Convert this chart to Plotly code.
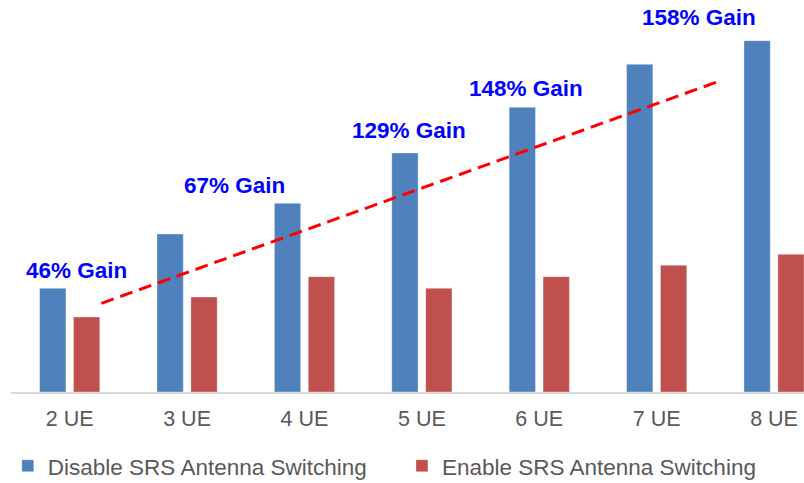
import plotly.graph_objects as go

# Throughput per number of UEs, with and without SRS antenna switching
categories = ["2 UE", "3 UE", "4 UE", "5 UE", "6 UE", "7 UE", "8 UE"]
disable_srs = [103.7, 158.0, 188.7, 239.0, 284.7, 327.7, 351.3]
enable_srs = [75.0, 95.0, 115.3, 103.7, 115.3, 126.7, 137.7]

# Gain callouts: text, x position (category units), height
gain_labels = ["46% Gain", "67% Gain", "129% Gain", "148% Gain", "158% Gain"]
gain_x = [0.06, 1.40, 2.89, 3.89, 5.36]
gain_y = [122, 207, 262, 304, 374.5]

# Dashed trend line endpoints
trend_x = [0.27, 5.52]
trend_y = [88.7, 310.3]

BLUE = "#4F81BD"
RED = "#C0504D"
GREY = "#595959"
FONT = "Liberation Sans, Arial, sans-serif"

idx = list(range(len(categories)))

fig = go.Figure()
fig.add_trace(go.Bar(
    x=idx, y=disable_srs, name="Disable SRS Antenna Switching", legend="legend",
    marker=dict(color=BLUE, line=dict(color="rgba(255,255,255,0.35)", width=1)),
))
fig.add_trace(go.Bar(
    x=idx, y=enable_srs, name="Enable SRS Antenna Switching", legend="legend2",
    marker=dict(color=RED, line=dict(color="rgba(255,255,255,0.35)", width=1)),
))
fig.add_trace(go.Scatter(
    x=trend_x, y=trend_y, mode="lines", showlegend=False, hoverinfo="skip",
    line=dict(color="#FF0000", width=3, dash="13px,7px"),
))

for txt, gx, gy in zip(gain_labels, gain_x, gain_y):
    fig.add_annotation(
        x=gx, y=gy, xref="x", yref="y", text=f"<b>{txt}</b>", showarrow=False,
        font=dict(family=FONT, size=22.5, color="#0000FF"),
        xanchor="center", yanchor="middle",
    )

legend_style = dict(
    orientation="h", yref="container", yanchor="middle", y=0.035, xanchor="left",
    font=dict(family=FONT, size=22.5, color=GREY),
    itemwidth=30, borderwidth=0, bgcolor="rgba(0,0,0,0)",
)

fig.update_layout(
    width=804, height=483,
    margin=dict(l=11, r=0, t=0, b=91),
    paper_bgcolor="white", plot_bgcolor="white",
    barmode="group", bargap=0.4225, bargroupgap=0.224,
    font=dict(family=FONT, color=GREY),
    legend=dict(x=-0.004, **legend_style),
    legend2=dict(x=0.493, **legend_style),
)
fig.update_xaxes(
    range=[-0.5, 6.255], tickmode="array", tickvals=idx, ticktext=categories,
    showline=True, linecolor="#D9D9D9", linewidth=1.5, ticks="",
    ticklabelstandoff=6,
    showgrid=False, zeroline=False, fixedrange=True,
    tickfont=dict(family=FONT, size=21.5, color=GREY),
)
fig.update_yaxes(
    range=[0, 392], visible=False, showgrid=False, zeroline=False, fixedrange=True,
)

fig.write_html("out.html")
